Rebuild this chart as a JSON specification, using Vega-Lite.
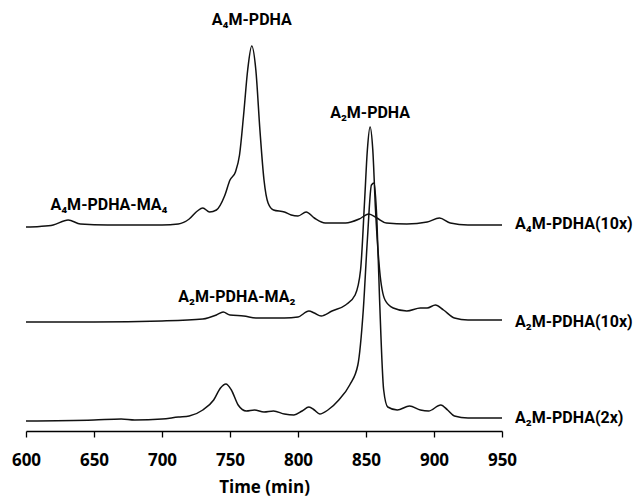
{
  "$schema": "https://vega.github.io/schema/vega-lite/v6.json",
  "autosize": {"type": "none"},
  "width": 476,
  "height": 420,
  "padding": {"left": 26, "top": 11, "right": 139, "bottom": 65},
  "config": {"view": {"stroke": null}},
  "datasets": {
    "traces": [
      {"trace": "A4M-PDHA(10x)", "t": 600, "v": 204},
      {"trace": "A4M-PDHA(10x)", "t": 610, "v": 204.5},
      {"trace": "A4M-PDHA(10x)", "t": 620, "v": 206},
      {"trace": "A4M-PDHA(10x)", "t": 631, "v": 211},
      {"trace": "A4M-PDHA(10x)", "t": 640, "v": 207},
      {"trace": "A4M-PDHA(10x)", "t": 660, "v": 206},
      {"trace": "A4M-PDHA(10x)", "t": 680, "v": 206},
      {"trace": "A4M-PDHA(10x)", "t": 700, "v": 206},
      {"trace": "A4M-PDHA(10x)", "t": 712, "v": 207},
      {"trace": "A4M-PDHA(10x)", "t": 720, "v": 212},
      {"trace": "A4M-PDHA(10x)", "t": 726, "v": 220},
      {"trace": "A4M-PDHA(10x)", "t": 730, "v": 223},
      {"trace": "A4M-PDHA(10x)", "t": 735, "v": 219},
      {"trace": "A4M-PDHA(10x)", "t": 740, "v": 221},
      {"trace": "A4M-PDHA(10x)", "t": 746, "v": 235},
      {"trace": "A4M-PDHA(10x)", "t": 750, "v": 251},
      {"trace": "A4M-PDHA(10x)", "t": 754, "v": 259},
      {"trace": "A4M-PDHA(10x)", "t": 757, "v": 276},
      {"trace": "A4M-PDHA(10x)", "t": 760, "v": 316},
      {"trace": "A4M-PDHA(10x)", "t": 763, "v": 361},
      {"trace": "A4M-PDHA(10x)", "t": 766, "v": 385},
      {"trace": "A4M-PDHA(10x)", "t": 769, "v": 361},
      {"trace": "A4M-PDHA(10x)", "t": 772, "v": 301},
      {"trace": "A4M-PDHA(10x)", "t": 775, "v": 251},
      {"trace": "A4M-PDHA(10x)", "t": 778, "v": 228},
      {"trace": "A4M-PDHA(10x)", "t": 782, "v": 221},
      {"trace": "A4M-PDHA(10x)", "t": 790, "v": 219},
      {"trace": "A4M-PDHA(10x)", "t": 795, "v": 216},
      {"trace": "A4M-PDHA(10x)", "t": 800, "v": 215},
      {"trace": "A4M-PDHA(10x)", "t": 806, "v": 219},
      {"trace": "A4M-PDHA(10x)", "t": 812, "v": 213},
      {"trace": "A4M-PDHA(10x)", "t": 820, "v": 208},
      {"trace": "A4M-PDHA(10x)", "t": 835, "v": 208},
      {"trace": "A4M-PDHA(10x)", "t": 845, "v": 212},
      {"trace": "A4M-PDHA(10x)", "t": 852, "v": 217},
      {"trace": "A4M-PDHA(10x)", "t": 858, "v": 213},
      {"trace": "A4M-PDHA(10x)", "t": 865, "v": 208},
      {"trace": "A4M-PDHA(10x)", "t": 880, "v": 207},
      {"trace": "A4M-PDHA(10x)", "t": 895, "v": 209},
      {"trace": "A4M-PDHA(10x)", "t": 904, "v": 213},
      {"trace": "A4M-PDHA(10x)", "t": 912, "v": 208},
      {"trace": "A4M-PDHA(10x)", "t": 925, "v": 206},
      {"trace": "A4M-PDHA(10x)", "t": 950, "v": 206},

      {"trace": "A2M-PDHA(10x)", "t": 600, "v": 109},
      {"trace": "A2M-PDHA(10x)", "t": 650, "v": 109},
      {"trace": "A2M-PDHA(10x)", "t": 700, "v": 110},
      {"trace": "A2M-PDHA(10x)", "t": 730, "v": 112},
      {"trace": "A2M-PDHA(10x)", "t": 740, "v": 116},
      {"trace": "A2M-PDHA(10x)", "t": 745, "v": 119},
      {"trace": "A2M-PDHA(10x)", "t": 750, "v": 116},
      {"trace": "A2M-PDHA(10x)", "t": 760, "v": 115},
      {"trace": "A2M-PDHA(10x)", "t": 770, "v": 113},
      {"trace": "A2M-PDHA(10x)", "t": 790, "v": 113},
      {"trace": "A2M-PDHA(10x)", "t": 800, "v": 114},
      {"trace": "A2M-PDHA(10x)", "t": 808, "v": 120},
      {"trace": "A2M-PDHA(10x)", "t": 812, "v": 118},
      {"trace": "A2M-PDHA(10x)", "t": 817, "v": 115},
      {"trace": "A2M-PDHA(10x)", "t": 825, "v": 120},
      {"trace": "A2M-PDHA(10x)", "t": 835, "v": 126},
      {"trace": "A2M-PDHA(10x)", "t": 842, "v": 136},
      {"trace": "A2M-PDHA(10x)", "t": 846, "v": 161},
      {"trace": "A2M-PDHA(10x)", "t": 849, "v": 231},
      {"trace": "A2M-PDHA(10x)", "t": 851, "v": 281},
      {"trace": "A2M-PDHA(10x)", "t": 853, "v": 304},
      {"trace": "A2M-PDHA(10x)", "t": 855, "v": 281},
      {"trace": "A2M-PDHA(10x)", "t": 857, "v": 221},
      {"trace": "A2M-PDHA(10x)", "t": 860, "v": 161},
      {"trace": "A2M-PDHA(10x)", "t": 864, "v": 131},
      {"trace": "A2M-PDHA(10x)", "t": 870, "v": 123},
      {"trace": "A2M-PDHA(10x)", "t": 880, "v": 120},
      {"trace": "A2M-PDHA(10x)", "t": 890, "v": 123},
      {"trace": "A2M-PDHA(10x)", "t": 895, "v": 123},
      {"trace": "A2M-PDHA(10x)", "t": 901, "v": 126},
      {"trace": "A2M-PDHA(10x)", "t": 907, "v": 121},
      {"trace": "A2M-PDHA(10x)", "t": 915, "v": 113},
      {"trace": "A2M-PDHA(10x)", "t": 925, "v": 111},
      {"trace": "A2M-PDHA(10x)", "t": 950, "v": 111},

      {"trace": "A2M-PDHA(2x)", "t": 600, "v": 10},
      {"trace": "A2M-PDHA(2x)", "t": 650, "v": 11},
      {"trace": "A2M-PDHA(2x)", "t": 670, "v": 12},
      {"trace": "A2M-PDHA(2x)", "t": 680, "v": 11},
      {"trace": "A2M-PDHA(2x)", "t": 700, "v": 12},
      {"trace": "A2M-PDHA(2x)", "t": 712, "v": 14},
      {"trace": "A2M-PDHA(2x)", "t": 720, "v": 15},
      {"trace": "A2M-PDHA(2x)", "t": 730, "v": 21},
      {"trace": "A2M-PDHA(2x)", "t": 738, "v": 31},
      {"trace": "A2M-PDHA(2x)", "t": 743, "v": 43},
      {"trace": "A2M-PDHA(2x)", "t": 747, "v": 47},
      {"trace": "A2M-PDHA(2x)", "t": 751, "v": 41},
      {"trace": "A2M-PDHA(2x)", "t": 756, "v": 26},
      {"trace": "A2M-PDHA(2x)", "t": 762, "v": 20},
      {"trace": "A2M-PDHA(2x)", "t": 768, "v": 21},
      {"trace": "A2M-PDHA(2x)", "t": 775, "v": 19},
      {"trace": "A2M-PDHA(2x)", "t": 782, "v": 20},
      {"trace": "A2M-PDHA(2x)", "t": 790, "v": 17},
      {"trace": "A2M-PDHA(2x)", "t": 797, "v": 16},
      {"trace": "A2M-PDHA(2x)", "t": 803, "v": 20},
      {"trace": "A2M-PDHA(2x)", "t": 808, "v": 24},
      {"trace": "A2M-PDHA(2x)", "t": 812, "v": 21},
      {"trace": "A2M-PDHA(2x)", "t": 816, "v": 17},
      {"trace": "A2M-PDHA(2x)", "t": 822, "v": 21},
      {"trace": "A2M-PDHA(2x)", "t": 830, "v": 31},
      {"trace": "A2M-PDHA(2x)", "t": 838, "v": 46},
      {"trace": "A2M-PDHA(2x)", "t": 844, "v": 66},
      {"trace": "A2M-PDHA(2x)", "t": 848, "v": 121},
      {"trace": "A2M-PDHA(2x)", "t": 851, "v": 191},
      {"trace": "A2M-PDHA(2x)", "t": 854, "v": 246},
      {"trace": "A2M-PDHA(2x)", "t": 856, "v": 248},
      {"trace": "A2M-PDHA(2x)", "t": 858, "v": 211},
      {"trace": "A2M-PDHA(2x)", "t": 860, "v": 131},
      {"trace": "A2M-PDHA(2x)", "t": 863, "v": 41},
      {"trace": "A2M-PDHA(2x)", "t": 866, "v": 24},
      {"trace": "A2M-PDHA(2x)", "t": 873, "v": 21},
      {"trace": "A2M-PDHA(2x)", "t": 882, "v": 25},
      {"trace": "A2M-PDHA(2x)", "t": 890, "v": 21},
      {"trace": "A2M-PDHA(2x)", "t": 896, "v": 20},
      {"trace": "A2M-PDHA(2x)", "t": 905, "v": 26},
      {"trace": "A2M-PDHA(2x)", "t": 910, "v": 21},
      {"trace": "A2M-PDHA(2x)", "t": 915, "v": 15},
      {"trace": "A2M-PDHA(2x)", "t": 925, "v": 13},
      {"trace": "A2M-PDHA(2x)", "t": 950, "v": 13}
    ],
    "peaks": [
      {"label": "A₄M-PDHA", "t": 766, "v": 411},
      {"label": "A₂M-PDHA", "t": 853, "v": 318},
      {"label": "A₄M-PDHA-MA₄", "t": 661, "v": 226},
      {"label": "A₂M-PDHA-MA₂", "t": 755, "v": 134}
    ],
    "series": [
      {"label": "A₄M-PDHA(10x)", "t": 950, "v": 207},
      {"label": "A₂M-PDHA(10x)", "t": 950, "v": 109},
      {"label": "A₂M-PDHA(2x)", "t": 950, "v": 13}
    ]
  },
  "layer": [
    {
      "data": {"name": "traces"},
      "mark": {"type": "line", "interpolate": "monotone", "color": "#111", "strokeWidth": 1.5},
      "encoding": {
        "x": {
          "field": "t", "type": "quantitative",
          "scale": {"domain": [600, 950], "nice": false, "zero": false},
          "axis": {
            "title": "Time (min)",
            "values": [600, 650, 700, 750, 800, 850, 900, 950],
            "grid": false,
            "domainColor": "#000", "domainWidth": 1.3,
            "tickColor": "#000", "tickSize": 6, "tickWidth": 1.3,
            "labelFont": "Open Sans", "labelFontSize": 17, "labelFontWeight": "bold", "labelColor": "#000",
            "labelPadding": 15, "labelFlush": false,
            "titleFont": "Open Sans", "titleFontSize": 17, "titleFontWeight": "bold", "titleColor": "#000",
            "titlePadding": 11
          }
        },
        "y": {
          "field": "v", "type": "quantitative",
          "scale": {"domain": [0, 420], "nice": false},
          "axis": null
        },
        "detail": {"field": "trace"}
      }
    },
    {
      "data": {"name": "peaks"},
      "mark": {"type": "text", "font": "Roboto", "fontSize": 16, "fontWeight": "bold", "color": "#000", "align": "center", "baseline": "middle"},
      "encoding": {
        "x": {"field": "t", "type": "quantitative"},
        "y": {"field": "v", "type": "quantitative"},
        "text": {"field": "label"}
      }
    },
    {
      "data": {"name": "series"},
      "mark": {"type": "text", "font": "Roboto", "fontSize": 16, "fontWeight": "bold", "color": "#000", "align": "left", "baseline": "middle", "dx": 13},
      "encoding": {
        "x": {"field": "t", "type": "quantitative"},
        "y": {"field": "v", "type": "quantitative"},
        "text": {"field": "label"}
      }
    }
  ]
}
